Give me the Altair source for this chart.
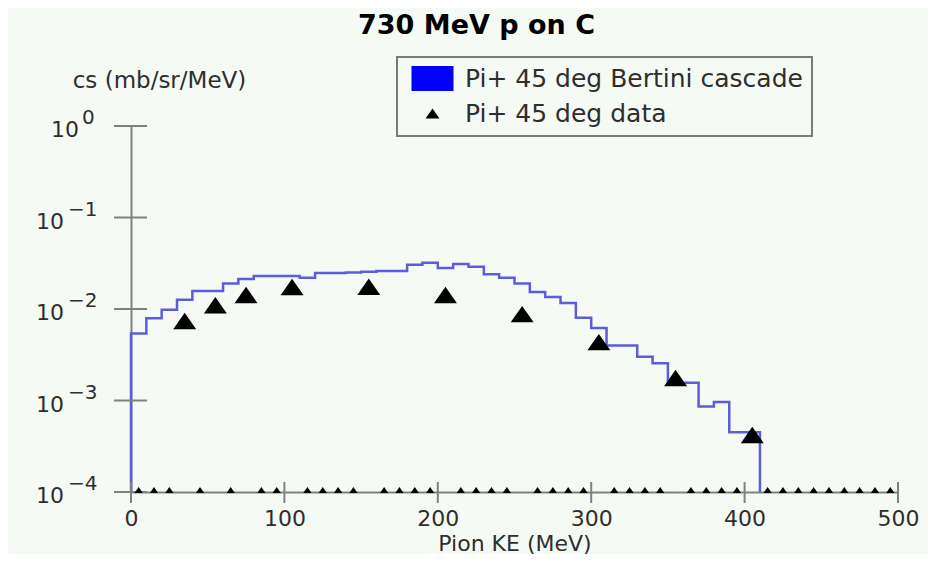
import altair as alt
import pandas as pd

TITLE = "730 MeV p on C"
X_TITLE = "Pion KE (MeV)"
Y_TITLE = "cs (mb/sr/MeV)"
SER_CASC = "Pi+ 45 deg Bertini cascade"
SER_DATA = "Pi+ 45 deg data"

# Bertini cascade histogram (step line): bin lower edges in MeV, value in mb/sr/MeV
casc_ke = [0, 0, 10, 20, 30, 40, 50, 60, 70, 80, 90, 100, 110, 120, 130, 140, 150,
           160, 170, 180, 190, 200, 210, 220, 230, 240, 250, 260, 270, 280, 290,
           300, 310, 320, 330, 340, 350, 360, 370, 380, 390, 400, 410]
casc_cs = [1e-4, 5.4e-3, 7.9e-3, 9.8e-3, 1.26e-2, 1.57e-2, 1.57e-2, 1.9e-2, 2.13e-2,
           2.3e-2, 2.3e-2, 2.3e-2, 2.2e-2, 2.48e-2, 2.48e-2, 2.5e-2, 2.55e-2, 2.6e-2,
           2.6e-2, 3.05e-2, 3.2e-2, 2.8e-2, 3.1e-2, 2.9e-2, 2.4e-2, 2.2e-2, 1.9e-2,
           1.53e-2, 1.35e-2, 1.16e-2, 8.0e-3, 6.2e-3, 4.0e-3, 4.0e-3, 3.0e-3, 2.55e-3,
           1.56e-3, 1.56e-3, 8.6e-4, 9.6e-4, 4.5e-4, 4.5e-4, 1e-4]

# measured data points
data_ke = [35, 55, 75, 105, 155, 205, 255, 305, 355, 405]
data_cs = [7.4e-3, 1.1e-2, 1.42e-2, 1.74e-2, 1.75e-2, 1.42e-2, 8.8e-3, 4.35e-3, 1.76e-3, 4.2e-4]

# data bins with no value, drawn on the lower edge of the plot
zero_ke = [5, 15, 25, 45, 65, 85, 95, 115, 125, 135, 145, 165, 175, 185, 195, 215, 225,
           235, 245, 265, 275, 285, 295, 315, 325, 335, 345, 365, 375, 385, 395, 415,
           425, 435, 445, 455, 465, 475, 485, 495]
zero_cs = [1e-4] * len(zero_ke)

x_ticks = [0, 100, 200, 300, 400, 500]
y_ticks = [1, 0.1, 0.01, 0.001, 0.0001]
y_base = ["10", "10", "10", "10", "10"]
y_exp = ["0", "\u22121", "\u22122", "\u22123", "\u22124"]

BG = "#f6faf4"
GREY = "#808080"
TXT = "#2e2e2e"
FONT = "DejaVu Sans"
W, H = 767, 366

RECT = "M-1.68,-1L1.68,-1L1.68,1L-1.68,1Z"
TRI = "M-0.56,0.4L0,-0.4L0.56,0.4Z"

xscale = alt.Scale(domain=[0, 500], nice=False, zero=False)
yscale = alt.Scale(type="log", domain=[1e-4, 1], nice=False)

casc_df = pd.DataFrame({"ke": casc_ke, "cs": casc_cs, "i": list(range(len(casc_ke)))})
data_df = pd.DataFrame({"ke": data_ke, "cs": data_cs, "series": [SER_DATA] * len(data_ke)})
zero_df = pd.DataFrame({"ke": zero_ke, "cs": zero_cs})
xt_df = pd.DataFrame({"ke": x_ticks})
yt_df = pd.DataFrame({"cs": y_ticks, "base": y_base, "exp": y_exp})

xaxis = alt.Axis(values=x_ticks, format="d", ticks=False, grid=False,
                 domainColor=GREY, domainWidth=2,
                 labelFont=FONT, labelFontSize=22, labelColor=TXT, labelPadding=16,
                 labelFlush=False,
                 title=X_TITLE, titleFont=FONT, titleFontSize=22, titleFontWeight="normal",
                 titleColor=TXT, titleY=51, titleBaseline="middle")
yaxis = alt.Axis(values=y_ticks, labels=False, ticks=False, grid=False,
                 domainColor=GREY, domainWidth=2,
                 title=Y_TITLE, titleAngle=0, titleX=28, titleY=-46,
                 titleAlign="center", titleBaseline="middle",
                 titleFont=FONT, titleFontSize=23, titleFontWeight="normal", titleColor=TXT)

X = alt.X("ke:Q", scale=xscale, axis=xaxis)
Y = alt.Y("cs:Q", scale=yscale, axis=yaxis)

line = alt.Chart(casc_df).mark_line(
    interpolate="step-after", color="#5c5cdc", strokeWidth=2.5
).encode(x=X, y=Y, order="i:Q")

xticks = alt.Chart(xt_df).mark_rule(color=GREY, strokeWidth=2).encode(
    x=X, y=alt.value(H - 10), y2=alt.value(H + 11)
)
yticks = alt.Chart(yt_df).mark_rule(color=GREY, strokeWidth=2).encode(
    y=Y, x=alt.value(-17), x2=alt.value(16)
)

leg = alt.Legend(title=None, orient="none", legendX=266, legendY=-69, direction="vertical",
                 fillColor=BG, strokeColor="#7a7a7a", padding=9,
                 labelFont=FONT, labelFontSize=25, labelColor=TXT, labelLimit=900,
                 symbolSize=625, symbolStrokeWidth=0, symbolOffset=14,
                 labelOffset=20, rowPadding=9)

points = alt.Chart(data_df).mark_point(filled=True, size=1681, opacity=1).encode(
    x=X, y=Y,
    color=alt.Color("series:N", scale=alt.Scale(domain=[SER_CASC, SER_DATA],
                                                range=["#0000ff", "#000000"]), legend=leg),
    shape=alt.Shape("series:N", scale=alt.Scale(domain=[SER_CASC, SER_DATA],
                                                range=[RECT, TRI]), legend=leg),
)

zeros = alt.Chart(zero_df).mark_point(filled=True, shape=TRI, size=220, color="black",
                                      opacity=1, yOffset=-2).encode(x=X, y=Y)

ylab = alt.Chart(yt_df)
ten_low = ylab.transform_filter("datum.exp != '0'").mark_text(
    align="right", baseline="middle", font=FONT, fontSize=22, color=TXT, dy=4
).encode(y=Y, x=alt.value(-67), text="base:N")
exp_low = ylab.transform_filter("datum.exp != '0'").mark_text(
    align="left", baseline="middle", font=FONT, fontSize=20, color=TXT, dy=-8
).encode(y=Y, x=alt.value(-63), text="exp:N")
ten_top = ylab.transform_filter("datum.exp == '0'").mark_text(
    align="right", baseline="middle", font=FONT, fontSize=22, color=TXT, dy=4
).encode(y=Y, x=alt.value(-52), text="base:N")
exp_top = ylab.transform_filter("datum.exp == '0'").mark_text(
    align="left", baseline="middle", font=FONT, fontSize=20, color=TXT, dy=-8
).encode(y=Y, x=alt.value(-49), text="exp:N")

chart = alt.layer(
    line, xticks, yticks, zeros, points, ten_low, exp_low, ten_top, exp_top
).properties(
    width=W, height=H,
    title=alt.TitleParams(TITLE, font=FONT, fontSize=27, fontWeight="bold", color="black",
                          anchor="middle", frame="group", dx=-38, offset=16),
    padding={"left": 123, "top": 118, "right": 30, "bottom": 62},
    autosize=alt.AutoSizeParams(type="none"),
    background=BG,
).configure_view(stroke=None).configure_legend(strokeWidth=2)

chart.save("out.html", embed_options={"renderer": "svg", "actions": False})
